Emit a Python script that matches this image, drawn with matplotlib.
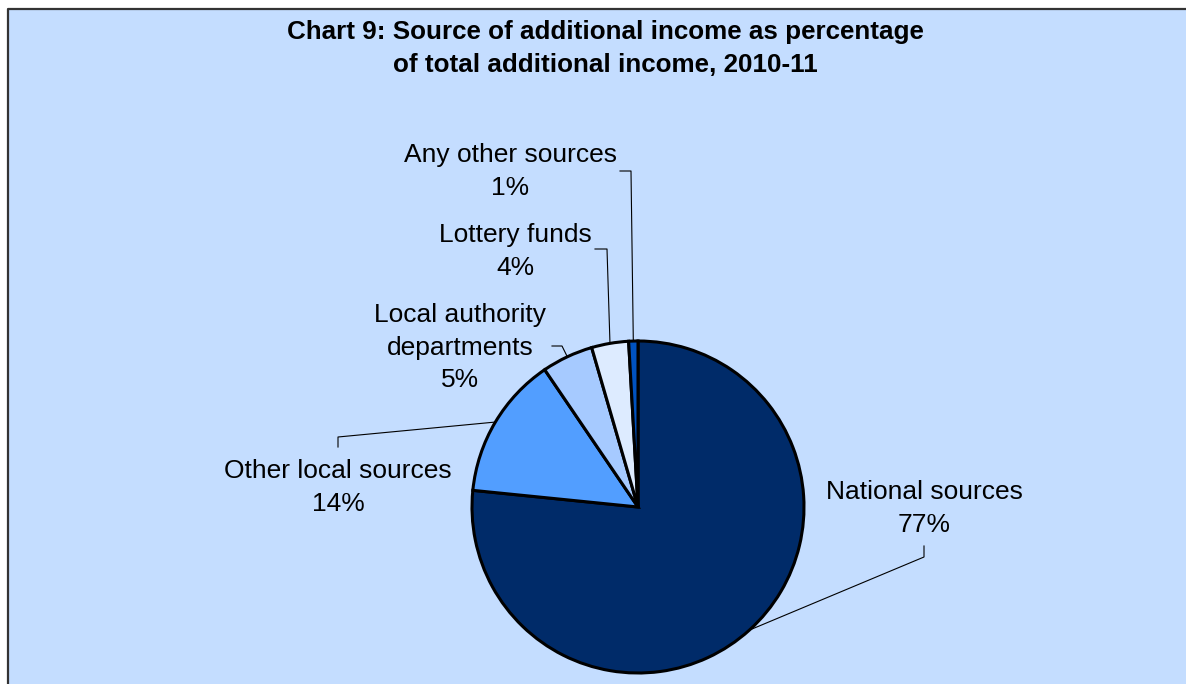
import matplotlib.pyplot as plt
from matplotlib.patches import Rectangle
from matplotlib.lines import Line2D
import numpy as np

# share of total additional income, 2010-11 (%)
sources = ['National sources', 'Other local sources', 'Local authority\ndepartments',
           'Lottery funds', 'Any other sources']
shares = [76.6, 13.9, 5.0, 3.6, 0.9]
colors = ['#002B69', '#529EFF', '#A6CAFF', '#DDEBFF', '#0052BF']

title = 'Chart 9: Source of additional income as percentage\nof total additional income, 2010-11'

W, H = 1186, 684


def flip(y):
    # pixel rows run downwards, the axes run upwards
    return H - y


def main():
    fig = plt.figure(figsize=(W / 100, H / 100), dpi=100)
    fig.patch.set_facecolor('white')

    # chart area, open to the right and bottom: fill, then left and top border
    left, top = 8 / W, flip(9) / H
    fig.add_artist(Rectangle((left, 0), 1 - left, top, transform=fig.transFigure,
                             facecolor='#C4DDFF', edgecolor='none', zorder=0))
    fig.add_artist(Line2D([left, left, 1], [0, top, top], transform=fig.transFigure,
                          color='#333333', linewidth=1.6, zorder=0.5))

    ax = fig.add_axes([0, 0, 1, 1])
    ax.patch.set_visible(False)

    cx, cy, r = 638, flip(507), 166
    wedges, _ = ax.pie(shares, colors=colors, startangle=90, counterclock=False,
                       center=(cx, cy), radius=r,
                       wedgeprops=dict(edgecolor='black', linewidth=2.2))
    for w in wedges:
        w.set_zorder(3)

    ax.set_xlim(0, W)
    ax.set_ylim(0, H)
    ax.axis('off')

    lines = title.split('\n')
    for i, line in enumerate(lines):
        ax.text(605, flip(39 + 33 * i), line, ha='center', va='baseline',
                fontsize=18.7, fontweight='bold', family='Liberation Sans', zorder=5)

    # label text centre x, first baseline, then the leader tick (start, elbow)
    layout = [
        (924, 499, (924, 546), (924, 557)),
        (338, 478, (338, 447), (338, 437)),
        (460, 322, (552, 346), (562, 346)),
        (515, 242, (595, 249), (607, 249)),
        (510, 162, (620, 171), (631, 171)),
    ]
    cum = np.cumsum([0] + shares)
    total = cum[-1]
    for i, (name, pct) in enumerate(zip(sources, shares)):
        tx, base, p0, p1 = layout[i]
        text_lines = name.split('\n') + ['%.0f%%' % pct]
        step = 32.5 if len(text_lines) > 2 else 33
        for j, t in enumerate(text_lines):
            ax.text(tx, flip(base + step * j), t, ha='center', va='baseline',
                    fontsize=19, family='Liberation Sans', zorder=5)
        mid = np.deg2rad(90 - 360 * (cum[i] + cum[i + 1]) / 2 / total)
        ex, ey = cx + r * np.cos(mid), cy + r * np.sin(mid)
        ax.plot([p0[0], p1[0], ex], [flip(p0[1]), flip(p1[1]), ey],
                color='black', linewidth=0.8, zorder=2)

    fig.savefig('out.png', dpi=100)


if __name__ == '__main__':
    main()
